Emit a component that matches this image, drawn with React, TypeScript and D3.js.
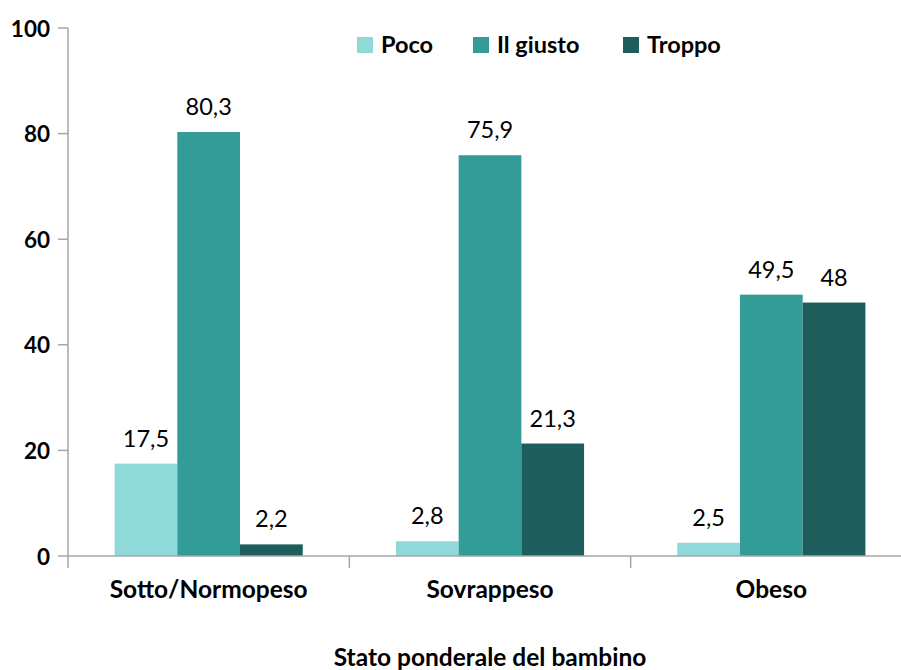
import React from "react";
import * as d3 from "d3";

const categories = ["Sotto/Normopeso", "Sovrappeso", "Obeso"];
const seriesNames = ["Poco", "Il giusto", "Troppo"];
const poco = [17.5, 2.8, 2.5];
const ilGiusto = [80.3, 75.9, 49.5];
const troppo = [2.2, 21.3, 48];
const seriesValues = [poco, ilGiusto, troppo];
const colors = ["#8FDAD8", "#339B98", "#1F5C5C"];
const yTicks = [0, 20, 40, 60, 80, 100];
const axisTitle = "Stato ponderale del bambino";

const W = 901;
const H = 670;
const left = 68;
const right = 912;
const top = 28;
const bottom = 556;
const font = "Lato, 'Open Sans', sans-serif";

export default function App() {
  const x = d3.scaleBand<string>().domain(categories).range([left, right]).padding(0);
  const inner = d3
    .scaleBand<string>()
    .domain(seriesNames)
    .range([0, x.bandwidth()])
    .paddingInner(0)
    .paddingOuter(0.743);
  const y = d3.scaleLinear().domain([0, 100]).range([bottom, top]);
  const fmt = (v: number) => String(v).replace(".", ",");
  const axisColor = "#A6A6A6";

  const legendX = [357, 473, 623];

  return (
    <svg
      width={W}
      height={H}
      style={{ position: "absolute", left: 0, top: 0, background: "#fff" }}
      fontFamily={font}
    >
      {/* bars */}
      {categories.map((c, ci) =>
        seriesNames.map((s, si) => {
          const v = seriesValues[si][ci];
          const bx = (x(c) as number) + (inner(s) as number);
          return (
            <g key={c + s}>
              <rect
                x={bx}
                y={y(v)}
                width={inner.bandwidth()}
                height={bottom - y(v)}
                fill={colors[si]}
              />
              <text
                x={bx + inner.bandwidth() / 2}
                y={y(v) - 17}
                textAnchor="middle"
                fontSize={23.5}
                fill="#000"
              >
                {fmt(v)}
              </text>
            </g>
          );
        })
      )}
      {/* y axis */}
      <line x1={left} x2={left} y1={top} y2={bottom} stroke={axisColor} strokeWidth={1.5} />
      {yTicks.map((t) => (
        <g key={t}>
          <line x1={left - 10} x2={left} y1={y(t)} y2={y(t)} stroke={axisColor} strokeWidth={1.5} />
          <text
            x={50}
            y={y(t)}
            textAnchor="end"
            dominantBaseline="central"
            fontSize={22.5}
            fontWeight="bold"
            fill="#000"
          >
            {t}
          </text>
        </g>
      ))}
      {/* x axis */}
      <line x1={left} x2={right} y1={bottom} y2={bottom} stroke={axisColor} strokeWidth={1.5} />
      {[...categories.map((c) => x(c) as number), right].map((px, i) => (
        <line key={i} x1={px} x2={px} y1={bottom} y2={bottom + 12} stroke={axisColor} strokeWidth={1.5} />
      ))}
      {categories.map((c) => (
        <text
          key={c}
          x={(x(c) as number) + x.bandwidth() / 2}
          y={598}
          textAnchor="middle"
          fontSize={24.5}
          fontWeight="bold"
          fill="#000"
        >
          {c}
        </text>
      ))}
      <text
        x={(left + right) / 2}
        y={666}
        textAnchor="middle"
        fontSize={24.5}
        fontWeight="bold"
        fill="#000"
      >
        {axisTitle}
      </text>
      {/* legend */}
      {seriesNames.map((s, i) => (
        <g key={s}>
          <rect x={legendX[i]} y={37} width={16} height={16} fill={colors[i]} />
          <text x={legendX[i] + 24} y={53} fontSize={23.5} fontWeight="bold" fill="#000">
            {s}
          </text>
        </g>
      ))}
    </svg>
  );
}
